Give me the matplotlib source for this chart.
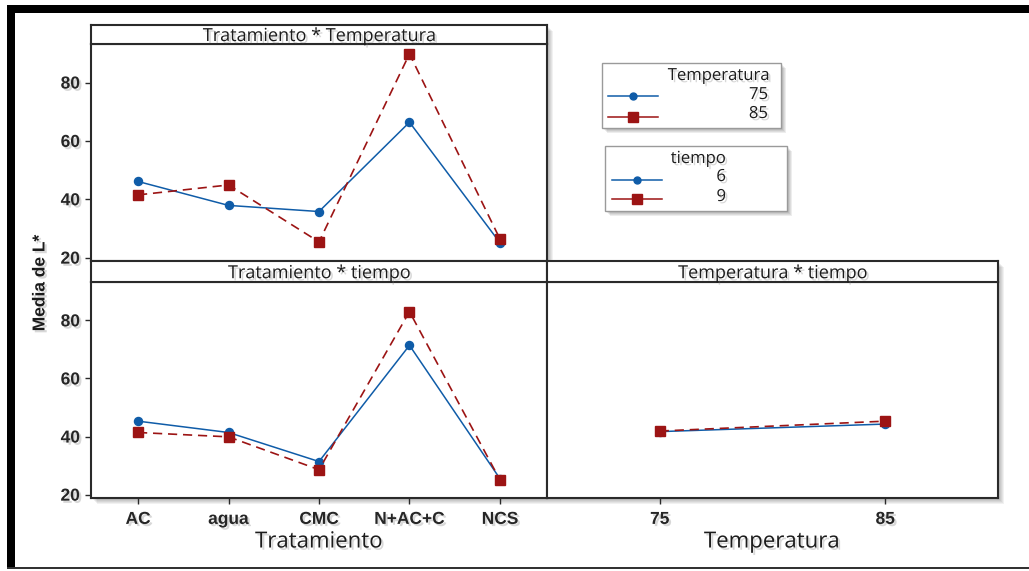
import matplotlib
matplotlib.use("Agg")
import matplotlib.pyplot as plt
import matplotlib.patheffects as pe
from matplotlib.patches import Rectangle
from matplotlib.lines import Line2D

# Media de L* por interacción
tratamientos = ["AC", "agua", "CMC", "N+AC+C", "NCS"]
temp_75 = [46.1, 37.9, 35.8, 66.4, 25.1]
temp_85 = [41.5, 44.9, 25.4, 89.8, 26.4]
tiempo_6 = [45.3, 41.4, 31.4, 71.4, 25.5]
tiempo_9 = [41.4, 39.9, 28.6, 83.0, 25.1]
temperaturas = [75, 85]
tt_tiempo_6 = [41.7, 44.3]
tt_tiempo_9 = [41.9, 45.3]
y_ticks = [20, 40, 60, 80]

W, H = 1029, 571
BLUE = "#0f5ca8"
RED = "#9c1414"
EDGE = "#2a2a2a"
TXT = "#1c1c1c"

fig = plt.figure(figsize=(W / 100, H / 100), dpi=100)
fig.patch.set_facecolor("white")

shadow_txt = [pe.withSimplePatchShadow(offset=(1.6, -1.6), shadow_rgbFace="0.45", alpha=0.28)]


def box(x0, y0, x1, y1):
    return [x0 / W, 1 - y1 / H, (x1 - x0) / W, (y1 - y0) / H]


def fig_rect(x0, y0, x1, y1, **kw):
    r = Rectangle((x0 / W, 1 - y1 / H), (x1 - x0) / W, (y1 - y0) / H,
                  transform=fig.transFigure, **kw)
    fig.add_artist(r)
    return r


def soft_shadow(x0, y0, x1, y1, steps=6, alpha=0.055):
    for k in range(1, steps + 1):
        fig_rect(x0 + k, y0 + k, x1 + k, y1 + k, facecolor="black",
                 edgecolor="none", alpha=alpha, zorder=-5)


# outer frame
fig_rect(7, 5, W + 2, 12.5, facecolor="black", edgecolor="none", zorder=5)
fig_rect(7, 5, 15, 569, facecolor="black", edgecolor="none", zorder=5)
fig_rect(7, 567, W + 2, 569, facecolor="#333333", edgecolor="none", zorder=5)

# panel geometry (pixels)
LX0, LX1, RX1 = 91, 547, 998
T_S0, T_S1, T_P1 = 25, 44, 261
B_S0, B_S1, B_P1 = 261, 282, 498
YLIM = (18.85, 93.2)

soft_shadow(LX0, T_S0, LX1, T_P1)
soft_shadow(LX0, B_S0, LX1, B_P1)
soft_shadow(LX1, B_S0, RX1, B_P1)


def strip(x0, y0, x1, y1, title):
    a = fig.add_axes(box(x0, y0, x1, y1))
    a.set_xticks([])
    a.set_yticks([])
    for s in a.spines.values():
        s.set_linewidth(1.5)
        s.set_color(EDGE)
    a.text(0.5, 0.42, title, ha="center", va="center", fontsize=13,
           family="Open Sans", color=TXT, transform=a.transAxes,
           path_effects=shadow_txt)
    return a


def panel(x0, y0, x1, y1):
    a = fig.add_axes(box(x0, y0, x1, y1))
    a.set_ylim(*YLIM)
    for s in a.spines.values():
        s.set_linewidth(1.5)
        s.set_color(EDGE)
    a.tick_params(length=4.5, width=1.0, color=EDGE, labelsize=12.5,
                  labelcolor="#262626", pad=3.5)
    return a


def draw_pair(a, x, ya, yb):
    a.plot(x, ya, color=BLUE, lw=1.1, marker="o", ms=5.8,
           markeredgecolor=BLUE, zorder=3)
    a.plot(x, yb, color=RED, lw=1.2, marker="s", ms=6.8,
           markeredgecolor=RED, dashes=(5.5, 3.5), zorder=4)


pos = list(range(1, len(tratamientos) + 1))

# Tratamiento * Temperatura
ax_tl = panel(LX0, T_S1, LX1, T_P1)
draw_pair(ax_tl, pos, temp_75, temp_85)
ax_tl.set_xlim(0.48, 5.52)
ax_tl.set_xticks([])
ax_tl.set_yticks(y_ticks)
strip(LX0, T_S0, LX1, T_S1, "Tratamiento * Temperatura")

# Tratamiento * tiempo
ax_bl = panel(LX0, B_S1, LX1, B_P1)
draw_pair(ax_bl, pos, tiempo_6, tiempo_9)
ax_bl.set_xlim(0.48, 5.52)
ax_bl.set_xticks(pos)
ax_bl.set_xticklabels(tratamientos)
ax_bl.set_yticks(y_ticks)
ax_bl.tick_params(axis="x", pad=5.5)
strip(LX0, B_S0, LX1, B_S1, "Tratamiento * tiempo")

# Temperatura * tiempo
ax_br = panel(LX1, B_S1, RX1, B_P1)
draw_pair(ax_br, temperaturas, tt_tiempo_6, tt_tiempo_9)
ax_br.set_xlim(70, 90)
ax_br.set_xticks(temperaturas)
ax_br.set_yticks([])
ax_br.tick_params(axis="x", pad=5.5)
strip(LX1, B_S0, RX1, B_S1, "Temperatura * tiempo")

for a in (ax_tl, ax_bl, ax_br):
    for lab in a.get_xticklabels() + a.get_yticklabels():
        lab.set_family("Liberation Sans")
        lab.set_fontweight("bold")
        lab.set_path_effects(shadow_txt)

# axis titles
fig.text(319 / W, 1 - 542 / H, "Tratamiento", ha="center", va="center",
         fontsize=16, family="Open Sans", color=TXT, path_effects=shadow_txt)
fig.text(772 / W, 1 - 542 / H, "Temperatura", ha="center", va="center",
         fontsize=16, family="Open Sans", color=TXT, path_effects=shadow_txt)
fig.text(40 / W, 1 - 283 / H, "Media de L*", ha="center", va="center",
         rotation=90, fontsize=12.5, fontweight="bold", family="Liberation Sans",
         color=TXT, path_effects=shadow_txt)


# legends
def legend_box(x0, y0, x1, y1, title, title_x, title_ha, labels, label_x,
               line_x0, line_x1, rows_y, label_rows_y, title_y):
    soft_shadow(x0, y0, x1, y1, steps=5, alpha=0.07)
    fig_rect(x0, y0, x1, y1, facecolor="white", edgecolor="#9a9a9a",
             lw=1.0, zorder=2)
    fig.text(title_x / W, 1 - title_y / H, title, ha=title_ha, va="center",
             fontsize=12, family="Open Sans", color=TXT, zorder=3,
             path_effects=shadow_txt)
    styles = [dict(color=BLUE, marker="o", ms=5), dict(color=RED, marker="s", ms=6.5)]
    for lab, ly, ty, st in zip(labels, rows_y, label_rows_y, styles):
        fig.add_artist(Line2D([line_x0 / W, line_x1 / W], [1 - ly / H, 1 - ly / H],
                              lw=1.1, transform=fig.transFigure,
                              color=st["color"], zorder=3))
        fig.add_artist(Line2D([(line_x0 + line_x1) / 2 / W], [1 - ly / H],
                              lw=0, marker=st["marker"], ms=st["ms"],
                              color=st["color"], transform=fig.transFigure, zorder=3))
        fig.text(label_x / W, 1 - ty / H, lab, ha="right", va="center",
                 fontsize=12, family="Open Sans", color=TXT, zorder=3,
                 path_effects=shadow_txt)


legend_box(602, 63, 781, 128, "Temperatura", 769, "right",
           [str(t) for t in temperaturas], 768, 608, 658, [96, 117], [95, 114], 76)
legend_box(605, 146, 787, 211, "tiempo", 698, "center",
           ["6", "9"], 726, 612, 662, [180, 199], [177, 197], 159)

fig.savefig("out.png", dpi=100, facecolor="white")
